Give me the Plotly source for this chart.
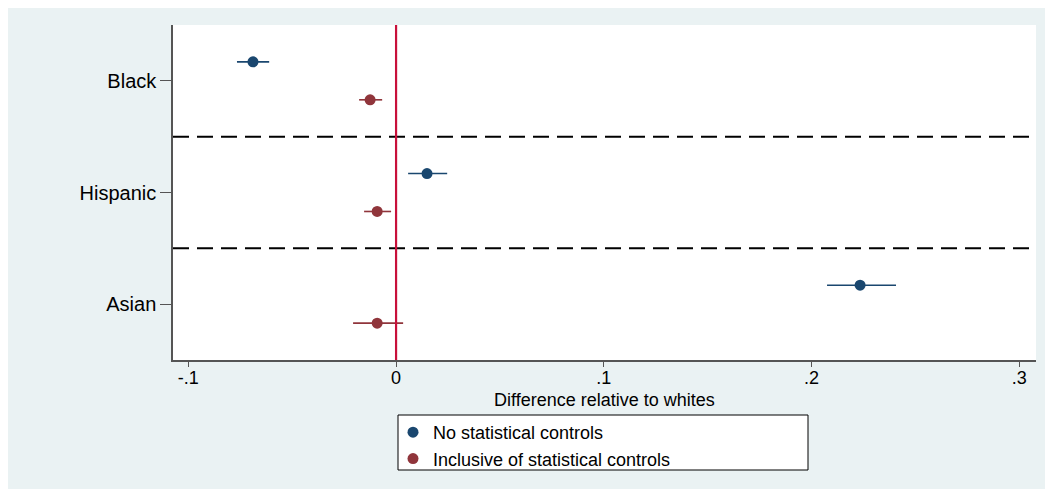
import plotly.graph_objects as go

groups = ["Black", "Hispanic", "Asian"]
no_ctrl = [-0.0689, 0.0149, 0.2234]
no_ctrl_lo = [-0.0766, 0.0058, 0.2075]
no_ctrl_hi = [-0.0611, 0.0246, 0.2407]
ctrl = [-0.0125, -0.0091, -0.0091]
ctrl_lo = [-0.0178, -0.0154, -0.0207]
ctrl_hi = [-0.0067, -0.0024, 0.0034]
series_names = ["No statistical controls", "Inclusive of statistical controls"]
xtick_vals = [-0.1, 0, 0.1, 0.2, 0.3]
xtick_text = ["-.1", "0", ".1", ".2", ".3"]
x_title = "Difference relative to whites"

BLUE = "#1a476f"
RED = "#90353b"
BG = "#eaf2f3"
FONT = "Liberation Sans, Arial, sans-serif"

OFF = 8  # page body margin
W, H = 1044, 481
L, R, T, B = 173 - OFF, 16, 25 - OFF, 129
pw, ph = W - L - R, H - T - B


def px_x(p):
    # page pixel -> paper coord
    return (p - OFF - L) / pw


def px_y(p):
    return (H - B - (p - OFF)) / ph


pos = [i + 1 for i in range(len(groups))]
off = 0.17

fig = go.Figure()
for name, vals, lo, hi, col, sgn in [
    (series_names[0], no_ctrl, no_ctrl_lo, no_ctrl_hi, BLUE, -1),
    (series_names[1], ctrl, ctrl_lo, ctrl_hi, RED, 1),
]:
    fig.add_trace(go.Scatter(
        x=vals,
        y=[p + sgn * off for p in pos],
        mode="markers",
        name=name,
        marker=dict(color=col, size=11, symbol="circle"),
        error_x=dict(type="data", symmetric=False,
                     array=[h - v for h, v in zip(hi, vals)],
                     arrayminus=[v - l for v, l in zip(vals, lo)],
                     color=col, thickness=1.6, width=0),
    ))

shapes = []
for i in range(len(groups) - 1):
    shapes.append(dict(type="line", xref="paper", yref="y", x0=0, x1=1,
                       y0=pos[i] + 0.5, y1=pos[i] + 0.5,
                       line=dict(color="black", width=2, dash="16px,8px"), layer="below"))
shapes.append(dict(type="line", xref="x", yref="paper", x0=0, x1=0, y0=0, y1=1,
                   line=dict(color="#c8103a", width=2.2), layer="above"))
shapes.append(dict(type="rect", xref="paper", yref="paper", x0=px_x(398), x1=px_x(808),
                   y0=px_y(470), y1=px_y(415), fillcolor="white",
                   line=dict(color="black", width=1), layer="above"))

fig.update_layout(
    width=W, height=H,
    margin=dict(l=L, r=R, t=T, b=B, pad=0, autoexpand=False),
    paper_bgcolor=BG, plot_bgcolor="white",
    font=dict(family=FONT, size=20, color="black"),
    shapes=shapes,
    showlegend=True,
    legend=dict(x=px_x(393), y=px_y(414), xanchor="left", yanchor="top",
                bgcolor="rgba(0,0,0,0)", borderwidth=0,
                font=dict(family=FONT, size=18, color="black")),
    annotations=[dict(text=x_title, xref="paper", yref="paper", x=0.5, y=px_y(400),
                      xanchor="center", yanchor="middle", showarrow=False,
                      font=dict(family=FONT, size=18, color="black"))],
    xaxis=dict(range=[-0.1074, 0.3081], tickvals=xtick_vals, ticktext=xtick_text,
               showgrid=False, zeroline=False, showline=True, linecolor="#555555", linewidth=1.5,
               ticks="outside", ticklen=5, tickcolor="#555555", tickwidth=1.2, automargin=False,
               tickfont=dict(family=FONT, size=18), ticklabelstandoff=-4),
    yaxis=dict(range=[3.5, 0.5], tickvals=pos, ticktext=groups, automargin=False,
               showgrid=False, zeroline=False, showline=True, linecolor="#555555", linewidth=1.5,
               ticks="outside", ticklen=11, tickcolor="#555555", tickwidth=1.2),
)

fig.write_html("out.html")
